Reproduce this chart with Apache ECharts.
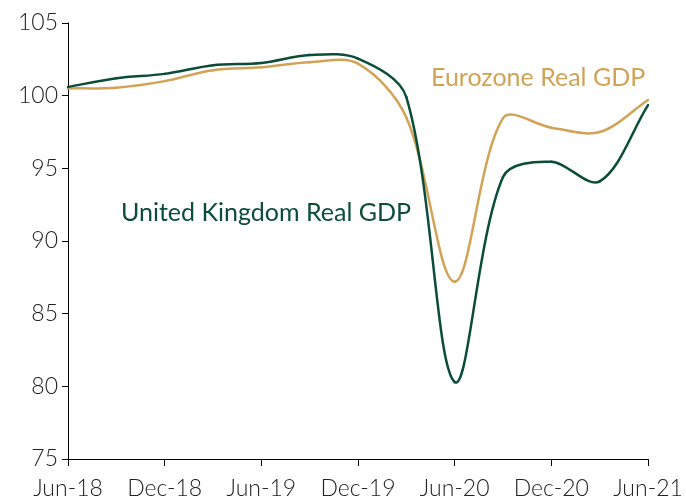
<!DOCTYPE html>
<html>
<head>
<meta charset="utf-8">
<script src="https://cdn.jsdelivr.net/npm/echarts@6/dist/echarts.min.js"></script>
<style>
  html, body { margin: 0; padding: 0; background: #fff; }
  #chart { width: 686px; height: 500px; }
</style>
</head>
<body>
<div id="chart"></div>
<script>
// quarterly points, Jun-18 .. Jun-21
var quarters = ['Jun-18', 'Sep-18', 'Dec-18', 'Mar-19', 'Jun-19', 'Sep-19', 'Dec-19',
                'Mar-20', 'Jun-20', 'Sep-20', 'Dec-20', 'Mar-21', 'Jun-21'];
var ukGdp = [100.6, 101.2, 101.5, 102.1, 102.25, 102.8, 102.55, 99.9, 80.3, 94.4, 95.45, 94.1, 99.35];
var ezGdp = [100.5, 100.55, 101.0, 101.75, 101.95, 102.3, 102.2, 98.5, 87.2, 98.45, 97.8, 97.5, 99.7];

var green = '#0b4d3a';
var gold = '#d2a357';
var fontFamily = 'Lato, "Noto Sans", sans-serif';

var chartDom = document.getElementById('chart');
var myChart = echarts.init(chartDom);
var option;

// smoothed line like the spreadsheet one: bezier per segment,
// control arms along (next - prev), split by the lengths of the two neighbouring segments
function splineSeries(name, values, color) {
    return {
        name: name,
        type: 'custom',
        data: values.map(function (v, i) { return [i, v]; }),
        encode: { x: 0, y: 1 },
        renderItem: function (params, api) {
            var n = values.length;
            var i = params.dataIndex;
            if (i >= n - 1) return null;
            function pt(k) {
                k = Math.max(0, Math.min(n - 1, k));
                return api.coord([k, values[k]]);
            }
            function dist(a, b) {
                return Math.sqrt((a[0] - b[0]) * (a[0] - b[0]) + (a[1] - b[1]) * (a[1] - b[1]));
            }
            // returns [inControl, outControl] for point k
            function ctrl(k) {
                var p = pt(k), a = pt(k - 1), b = pt(k + 1);
                var d0 = dist(a, p), d1 = dist(p, b);
                var vx = b[0] - a[0], vy = b[1] - a[1];
                var s = 1 / 3, sum = d0 + d1;
                return [
                    [p[0] - vx * s * d0 / sum, p[1] - vy * s * d0 / sum],
                    [p[0] + vx * s * d1 / sum, p[1] + vy * s * d1 / sum]
                ];
            }
            var p1 = pt(i), p2 = pt(i + 1);
            var c1 = ctrl(i)[1], c2 = ctrl(i + 1)[0];
            return {
                type: 'bezierCurve',
                shape: {
                    x1: p1[0], y1: p1[1],
                    cpx1: c1[0], cpy1: c1[1],
                    cpx2: c2[0], cpy2: c2[1],
                    x2: p2[0], y2: p2[1]
                },
                style: {
                    stroke: color,
                    lineWidth: 2.5,
                    fill: null,
                    lineCap: 'round'
                }
            };
        }
    };
}

option = {
    animation: false,
    grid: {
        left: 68,
        right: 38,
        top: 23,
        bottom: 41
    },
    xAxis: {
        type: 'category',
        data: quarters,
        boundaryGap: false,
        axisLine: { lineStyle: { color: '#000', width: 1 } },
        axisTick: { interval: 1, length: 7, lineStyle: { color: '#000' } },
        axisLabel: {
            interval: 1,
            color: '#222',
            fontSize: 23,
            fontFamily: fontFamily,
            fontWeight: 300,
            margin: 18
        },
        splitLine: { show: false }
    },
    yAxis: {
        type: 'value',
        min: 75,
        max: 105,
        interval: 5,
        axisLine: { show: true, lineStyle: { color: '#000', width: 1 } },
        axisTick: { show: true, length: 6, lineStyle: { color: '#000' } },
        axisLabel: {
            color: '#222',
            fontSize: 23,
            fontFamily: fontFamily,
            fontWeight: 300,
            margin: 10
        },
        splitLine: { show: false }
    },
    graphic: [
        {
            type: 'text',
            x: 121,
            y: 213,
            style: {
                text: 'United Kingdom Real GDP',
                fill: green,
                fontSize: 25,
                fontFamily: fontFamily,
                textVerticalAlign: 'middle'
            }
        },
        {
            type: 'text',
            x: 431,
            y: 78,
            style: {
                text: 'Eurozone Real GDP',
                fill: gold,
                fontSize: 25,
                fontFamily: fontFamily,
                textVerticalAlign: 'middle'
            }
        }
    ],
    series: [
        splineSeries('Eurozone Real GDP', ezGdp, gold),
        splineSeries('United Kingdom Real GDP', ukGdp, green)
    ]
};

option && myChart.setOption(option);
</script>
</body>
</html>
